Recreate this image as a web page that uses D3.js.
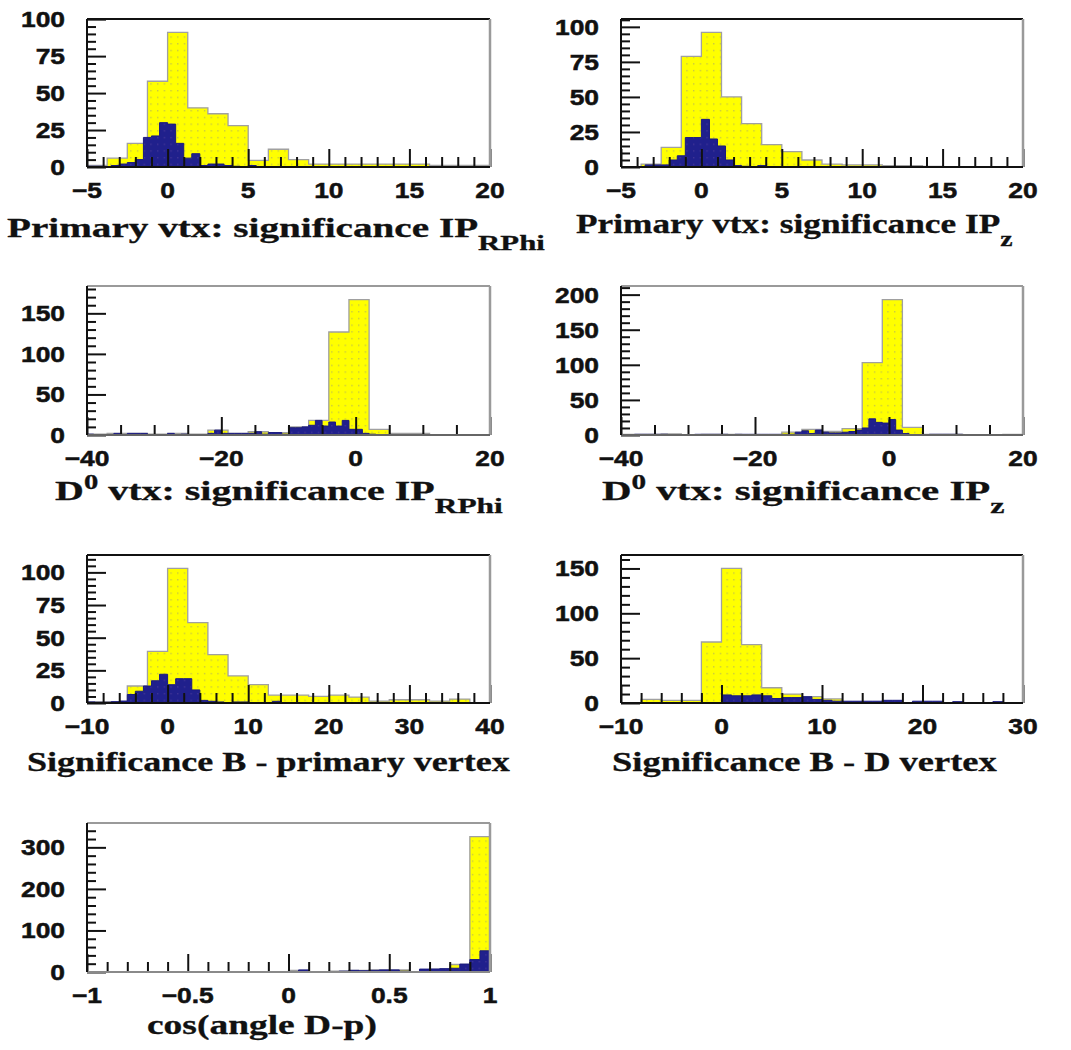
<!DOCTYPE html>
<html><head><meta charset="utf-8">
<script src="https://cdn.jsdelivr.net/npm/d3@7"></script>
<style>
html,body{margin:0;padding:0;background:#fff;}
svg{display:block;}
.lab{font-family:"Liberation Sans",Arial,sans-serif;font-weight:bold;font-size:22px;fill:#111;stroke:#111;stroke-width:0.5px;}
.title{font-family:"Liberation Serif","Times New Roman",serif;font-weight:bold;font-size:28px;fill:#111;stroke:#111;stroke-width:0.3px;}
</style></head><body>
<svg id="c" width="1071" height="1050"></svg>
<script>
// ---------- DATA ----------
// Panel 1: Primary vtx: significance IP_RPhi
const p1Range = [-5, 20];
const p1Yellow = [1, 6, 16, 58, 91, 40, 36, 28, 4.5, 12, 5, 2, 2, 2, 2, 2, 2, 1, 1, 1];
const p1Blue = [0.5, 0.5, 0, 1, 2, 3, 5, 20, 21, 30, 29, 16, 6, 9, 1, 2, 2, 1, 0.5, 0,
                1, 0, 0, 0, 0, 0, 0, 0, 0, 0, 0, 0, 0, 0, 0, 0, 0, 0, 0, 0,
                0, 0, 0, 0, 0, 0, 0, 0, 0, 0];
const p1XTicks = [-5, 0, 5, 10, 15, 20];
const p1XMinor = 1;
const p1YTicks = [0, 25, 50, 75, 100];
const p1YMinor = 5;
const p1Title = [["Primary vtx: significance IP", "n"], ["RPhi", "sub"]];

// Panel 2: Primary vtx: significance IP_z
const p2Range = [-5, 20];
const p2Yellow = [0, 2, 14, 79, 96, 50, 31, 16, 11, 5, 2, 1.5, 1.5, 1, 1, 0.5, 0, 0, 0, 0];
const p2Blue = [0, 0, 0, 1.5, 1.5, 1.5, 5, 8, 21, 21, 34, 20, 15, 5, 1, 0.5, 0, 1, 0, 0,
                0, 0, 0, 0, 0, 0, 0, 0, 0, 0, 0, 0, 0, 0, 0, 0, 0, 0, 0, 0,
                0, 0, 0, 0, 0, 0, 0, 0, 0, 0];
const p2XTicks = [-5, 0, 5, 10, 15, 20];
const p2XMinor = 1;
const p2YTicks = [0, 25, 50, 75, 100];
const p2YMinor = 5;
const p2Title = [["Primary vtx: significance IP", "n"], ["z", "sub"]];

// Panel 3: D0 vtx: significance IP_RPhi
const p3Range = [-40, 20];
const p3Yellow = [1, 2, 2, 1, 2, 1, 6, 2, 4, 3, 10, 18, 127, 167, 7, 2, 2, 0, 0, 0];
const p3Blue = [1, 0, 0, 0, 2, 0, 2, 2, 2, 0, 0, 0, 2, 0, 1, 0, 0, 0, 2, 6,
                2, 2, 2, 2, 2, 4, 1, 3, 3, 1, 9, 9, 10, 12, 18, 11, 16, 11, 18, 7,
                7, 2, 1, 0, 0, 0, 0, 0, 0, 0, 0, 0, 0, 0, 0, 0, 0, 0, 0, 0];
const p3XTicks = [-40, -20, 0, 20];
const p3XMinor = 5;
const p3YTicks = [0, 50, 100, 150];
const p3YMinor = 10;
const p3Title = [["D", "n"], ["0", "sup"], [" vtx: significance IP", "n"], ["RPhi", "sub"]];

// Panel 4: D0 vtx: significance IP_z
const p4Range = [-40, 20];
const p4Yellow = [1, 1, 1.5, 0.5, 1, 1, 0.5, 0.5, 4, 8, 5, 9, 103, 193, 11, 1, 1, 0, 0, 1];
const p4Blue = [0, 0, 1, 1, 1, 1, 1, 0, 0, 0, 0, 1, 1, 1, 1, 1, 0, 1, 1, 1,
                1, 1, 1, 1, 1, 1, 4, 6, 2, 7, 4, 3, 3, 4, 5, 7, 10, 23, 18, 17,
                22, 7, 2, 0, 0, 0, 1, 1, 1, 1, 1, 0, 0, 0, 0, 0, 0, 0, 0, 0];
const p4XTicks = [-40, -20, 0, 20];
const p4XMinor = 5;
const p4YTicks = [0, 50, 100, 150, 200];
const p4YMinor = 10;
const p4Title = [["D", "n"], ["0", "sup"], [" vtx: significance IP", "n"], ["z", "sub"]];

// Panel 5: Significance B - primary vertex
const p5Range = [-10, 40];
const p5Yellow = [1, 1, 13, 39.5, 103, 61.5, 37, 20.7, 14, 6, 6, 5, 6, 4.5, 1.5, 2.5, 2.5, 1.5, 3, 0];
const p5Blue = [0.8, 0.5, 0.5, 1, 1.5, 6.5, 9, 13, 17, 22, 14, 18.6, 18.6, 10, 2, 1.3, 0.8, 0, 0.8, 0.8,
                0, 0, 0, 1.3, 0, 0, 0, 0, 0, 0, 0, 0, 0, 0, 0, 0, 0, 0, 0, 0,
                0, 0, 0, 0, 0, 0, 0, 0, 0, 0];
const p5XTicks = [-10, 0, 10, 20, 30, 40];
const p5XMinor = 2;
const p5YTicks = [0, 25, 50, 75, 100];
const p5YMinor = 5;
const p5Title = [["Significance B - primary vertex", "n"]];

// Panel 6: Significance B - D vertex
const p6Range = [-10, 30];
const p6Yellow = [0, 4, 3, 3, 68, 150, 65, 17, 10, 7, 4.5, 1, 0, 0, 0, 0, 0, 0, 0, 0];
const p6Blue = [0, 0, 0, 0, 0, 0, 0, 0, 0, 0, 9, 8, 8, 9, 8, 5, 6, 6, 7, 4,
                3, 2, 2, 2, 2, 2, 3, 3, 0, 2, 2, 2, 0, 1.5, 0, 0, 0, 1.5, 0, 0];
const p6XTicks = [-10, 0, 10, 20, 30];
const p6XMinor = 2;
const p6YTicks = [0, 50, 100, 150];
const p6YMinor = 10;
const p6Title = [["Significance B - D vertex", "n"]];

// Panel 7: cos(angle D-p)
const p7Range = [-1, 1];
const p7Yellow = [0, 0, 0, 0, 0, 0, 0, 0, 0, 0, 4, 0, 2, 4, 5, 5, 1, 7, 18, 326];
const p7Blue = [0, 0, 0, 0, 0, 0, 0, 0, 0, 0, 0, 0, 0, 0, 0, 0, 0, 0, 0, 0,
                0, 5, 0, 0, 0, 2, 4, 3, 4, 5, 5, 2, 1, 7, 7, 8, 9, 19, 30, 51];
const p7XTicks = [-1, -0.5, 0, 0.5, 1];
const p7XMinor = 0.1;
const p7YTicks = [0, 100, 200, 300];
const p7YMinor = 20;
const p7Title = [["cos(angle D-p)", "n"]];

// ---------- LAYOUT ----------
const panels = [
  {range: p1Range, yellow: p1Yellow, blue: p1Blue, xTicks: p1XTicks, xMinor: p1XMinor, yTicks: p1YTicks, yMinor: p1YMinor, title: p1Title},
  {range: p2Range, yellow: p2Yellow, blue: p2Blue, xTicks: p2XTicks, xMinor: p2XMinor, yTicks: p2YTicks, yMinor: p2YMinor, title: p2Title},
  {range: p3Range, yellow: p3Yellow, blue: p3Blue, xTicks: p3XTicks, xMinor: p3XMinor, yTicks: p3YTicks, yMinor: p3YMinor, title: p3Title},
  {range: p4Range, yellow: p4Yellow, blue: p4Blue, xTicks: p4XTicks, xMinor: p4XMinor, yTicks: p4YTicks, yMinor: p4YMinor, title: p4Title},
  {range: p5Range, yellow: p5Yellow, blue: p5Blue, xTicks: p5XTicks, xMinor: p5XMinor, yTicks: p5YTicks, yMinor: p5YMinor, title: p5Title},
  {range: p6Range, yellow: p6Yellow, blue: p6Blue, xTicks: p6XTicks, xMinor: p6XMinor, yTicks: p6YTicks, yMinor: p6YMinor, title: p6Title},
  {range: p7Range, yellow: p7Yellow, blue: p7Blue, xTicks: p7XTicks, xMinor: p7XMinor, yTicks: p7YTicks, yMinor: p7YMinor, title: p7Title}
];
const layout = [
  {left: 87,  right: 490,  top: 19,  bottom: 167, tx: 7,   ty: 237,  tw: 538, topC: "#111", rightC: "#9a9a9a", botC: "#111"},
  {left: 621, right: 1023, top: 19,  bottom: 167, tx: 576, ty: 233,  tw: 437, topC: "#111", rightC: "#9a9a9a", botC: "#111"},
  {left: 87,  right: 490,  top: 286, bottom: 435, tx: 55,  ty: 500,  tw: 448, topC: "#9a9a9a", rightC: "#9a9a9a", botC: "#666"},
  {left: 621, right: 1023, top: 286, bottom: 435, tx: 602, ty: 500,  tw: 403, topC: "#9a9a9a", rightC: "#9a9a9a", botC: "#666"},
  {left: 87,  right: 490,  top: 555, bottom: 703, tx: 27,  ty: 771,  tw: 483, topC: "#111", rightC: "#9a9a9a", botC: "#111"},
  {left: 621, right: 1023, top: 555, bottom: 703, tx: 612, ty: 771,  tw: 385, topC: "#111", rightC: "#9a9a9a", botC: "#111"},
  {left: 87,  right: 490,  top: 823, bottom: 972, tx: 147, ty: 1034, tw: 230, topC: "#9a9a9a", rightC: "#9a9a9a", botC: "#8a8a8a"}
];

const svg = d3.select("#c");
const defs = svg.append("defs");
const py = defs.append("pattern").attr("id", "yel").attr("patternUnits", "userSpaceOnUse").attr("width", 6.7).attr("height", 6.7);
py.append("rect").attr("width", 6.7).attr("height", 6.7).attr("fill", "#ffff00");
py.append("rect").attr("x", 3).attr("y", 3).attr("width", 1.2).attr("height", 1.2).attr("fill", "#b4b45a");
const pb = defs.append("pattern").attr("id", "blu").attr("patternUnits", "userSpaceOnUse").attr("width", 6.7).attr("height", 6.7);
pb.append("rect").attr("width", 6.7).attr("height", 6.7).attr("fill", "#20208c");
pb.append("rect").attr("x", 3).attr("y", 3).attr("width", 1.2).attr("height", 1.2).attr("fill", "#4a3a9a");

function stepPoints(vals, range) {
  const n = vals.length, w = (range[1] - range[0]) / n;
  const pts = [{x: range[0], y: 0}];
  vals.forEach((v, i) => pts.push({x: range[0] + i * w, y: v}));
  pts.push({x: range[1], y: vals[n - 1]});
  pts.push({x: range[1], y: 0});
  return pts;
}

const fmt = d3.format("");
const LABEL_SX = 1.2;

panels.forEach((P, i) => {
  const L = layout[i];
  const g = svg.append("g");
  const ymax = 1.1 * d3.max(P.yellow);
  const x = d3.scaleLinear().domain(P.range).range([L.left, L.right]);
  const y = d3.scaleLinear().domain([0, ymax]).range([L.bottom, L.top]);

  const area = d3.area().x(d => x(d.x)).y0(y(0)).y1(d => y(d.y)).curve(d3.curveStepAfter);
  const line = d3.line().x(d => x(d.x)).y(d => y(d.y)).curve(d3.curveStepAfter);

  const yp = stepPoints(P.yellow, P.range);
  g.append("path").attr("d", area(yp)).attr("fill", "url(#yel)");
  g.append("path").attr("d", line(yp)).attr("fill", "none").attr("stroke", "#a0a0a0").attr("stroke-width", 1.3);
  const bp = stepPoints(P.blue, P.range);
  g.append("path").attr("d", area(bp)).attr("fill", "url(#blu)");
  g.append("path").attr("d", line(bp)).attr("fill", "none").attr("stroke", "#1a1a80").attr("stroke-width", 1);

  // ticks (drawn inside the frame)
  const near = (a, arr) => arr.some(t => Math.abs(t - a) < 1e-9);
  const xMinorVals = d3.range(P.range[0], P.range[1] + P.xMinor / 2, P.xMinor).filter(v => !near(v, P.xTicks));
  const yMinorVals = d3.range(0, ymax, P.yMinor).filter(v => !near(v, P.yTicks));

  const axes = [
    g.append("g").attr("transform", `translate(0,${L.bottom})`)
      .call(d3.axisBottom(x).tickValues(xMinorVals).tickSize(-10).tickFormat("")),
    g.append("g").attr("transform", `translate(0,${L.bottom})`)
      .call(d3.axisBottom(x).tickValues(P.xTicks).tickSize(-18).tickFormat("")),
    g.append("g").attr("transform", `translate(${L.left},0)`)
      .call(d3.axisLeft(y).tickValues(yMinorVals).tickSize(-9).tickFormat("")),
    g.append("g").attr("transform", `translate(${L.left},0)`)
      .call(d3.axisLeft(y).tickValues(P.yTicks).tickSize(-19).tickFormat(""))
  ];
  axes.forEach(a => {
    a.select(".domain").remove();
    a.selectAll("text").remove();
    a.attr("color", "#111");
    a.selectAll("line").attr("stroke-width", 2);
  });

  // tick labels
  g.selectAll(".xl").data(P.xTicks).join("text").attr("class", "lab xl")
    .attr("text-anchor", "middle")
    .attr("transform", d => `translate(${x(d)},${L.bottom + 31}) scale(${LABEL_SX},1)`)
    .text(fmt);
  g.selectAll(".yl").data(P.yTicks).join("text").attr("class", "lab yl")
    .attr("text-anchor", "end")
    .attr("transform", d => `translate(${L.left - 22},${y(d) + 8}) scale(${LABEL_SX},1)`)
    .text(fmt);

  // frame
  g.append("line").attr("x1", L.left).attr("x2", L.right).attr("y1", L.top).attr("y2", L.top).attr("stroke", L.topC).attr("stroke-width", 2);
  g.append("line").attr("x1", L.right).attr("x2", L.right).attr("y1", L.top).attr("y2", L.bottom).attr("stroke", L.rightC).attr("stroke-width", 2.5);
  g.append("line").attr("x1", L.left).attr("x2", L.right).attr("y1", L.bottom).attr("y2", L.bottom).attr("stroke", L.botC).attr("stroke-width", 2);
  g.append("line").attr("x1", L.left).attr("x2", L.left).attr("y1", L.top).attr("y2", L.bottom).attr("stroke", "#111").attr("stroke-width", 2);

  // title (fitted horizontally to the reference width)
  const t = g.append("text").attr("class", "title").attr("transform", `translate(${L.tx},${L.ty})`);
  let shift = 0;
  P.title.forEach(([txt, kind]) => {
    const s = t.append("tspan").text(txt);
    let target = 0;
    if (kind === "sub") { s.style("font-size", "22px"); target = 13; }
    if (kind === "sup") { s.style("font-size", "20px"); target = -11; }
    s.attr("dy", target - shift);
    shift = target;
  });
  const w = t.node().getBBox().width;
  t.attr("transform", `translate(${L.tx},${L.ty}) scale(${L.tw / w},1)`);
});
</script>
</body></html>
